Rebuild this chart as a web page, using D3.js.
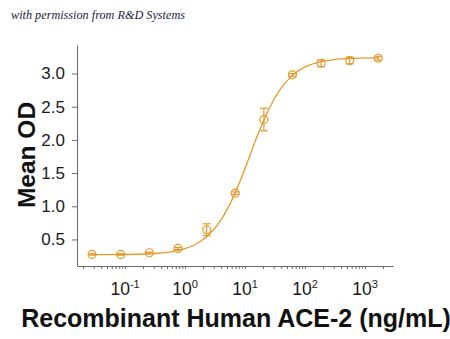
<!DOCTYPE html>
<html>
<head>
<meta charset="utf-8">
<script src="https://cdn.jsdelivr.net/npm/d3@7/dist/d3.min.js"></script>
<style>
  html, body { margin: 0; padding: 0; background: #fff; }
  svg { display: block; }
</style>
</head>
<body>
<svg id="chart" width="450" height="339"></svg>
<script>
// Concentrations of recombinant human ACE-2 (ng/mL), 3-fold dilution series
const concentrations = [0.0282, 0.0847, 0.254, 0.762, 2.29, 6.86, 20.6, 61.7, 185, 556, 1667];
// Mean OD at each concentration and its error (±)
const meanOD = [0.274, 0.274, 0.30, 0.365, 0.646, 1.197, 2.307, 2.98, 3.155, 3.196, 3.23];
const errOD  = [0.01, 0.01, 0.01, 0.015, 0.09, 0.02, 0.17, 0.02, 0.05, 0.05, 0.03];

// Fitted dose-response line: sampled concentrations and OD
const fitConc = [0.0282, 0.063, 0.158, 0.398, 1.0, 1.585, 2.512, 3.981, 6.31, 10, 15.85, 25.12, 39.81, 63.1, 100, 158.5, 316.2, 631, 1667];
const fitOD   = [0.271, 0.272, 0.277, 0.296, 0.362, 0.44, 0.575, 0.795, 1.13, 1.57, 2.05, 2.47, 2.78, 2.98, 3.10, 3.166, 3.212, 3.229, 3.236];

const xTickExps = [-1, 0, 1, 2, 3];
const yTicks = [0.5, 1.0, 1.5, 2.0, 2.5, 3.0];

const orange = "#e49a2c";
const axisColor = "#6a6a6a";
const svg = d3.select("#chart");

const x = d3.scaleLog().domain([0.0158, 2930]).range([77, 393]);
const y = d3.scaleLinear().domain([0.1, 3.43]).range([266, 45]);

// Watermark line
svg.append("text")
  .attr("x", 11).attr("y", 19)
  .attr("font-family", "'Liberation Serif', 'DejaVu Serif', serif")
  .attr("font-style", "italic")
  .attr("font-size", 12.5)
  .attr("fill", "#1c1c3c")
  .attr("textLength", 174)
  .attr("lengthAdjust", "spacingAndGlyphs")
  .text("with permission from R&D Systems");

// Y axis
const yAxis = svg.append("g")
  .attr("transform", "translate(77,0)")
  .call(d3.axisLeft(y).tickValues(yTicks).tickFormat(d3.format(".1f")).tickSize(5).tickSizeOuter(0).tickPadding(7));
yAxis.select(".domain").attr("stroke", axisColor);
yAxis.selectAll(".tick line").attr("stroke", axisColor);
yAxis.selectAll(".tick text")
  .attr("font-family", "'Liberation Sans', Arial, sans-serif")
  .attr("font-size", 17)
  .attr("fill", "#1a1a1a");

// X axis with decade and minor ticks
const minorTicks = [];
for (let e = -2; e <= 3; e++) {
  for (let m = 1; m <= 9; m++) {
    const v = m * Math.pow(10, e);
    if (v >= x.domain()[0] && v <= x.domain()[1]) minorTicks.push(v);
  }
}
const xAxis = svg.append("g")
  .attr("transform", "translate(0,266)")
  .call(d3.axisBottom(x).tickValues(minorTicks).tickFormat("").tickSize(3).tickSizeOuter(0));
xAxis.select(".domain").attr("stroke", axisColor);
xAxis.selectAll(".tick line").attr("stroke", axisColor);

// Decade labels 10^n
const xl = svg.append("g")
  .attr("font-family", "'Liberation Sans', Arial, sans-serif")
  .attr("fill", "#1a1a1a");
xTickExps.forEach(e => {
  const t = xl.append("text")
    .attr("x", x(Math.pow(10, e)))
    .attr("y", 295)
    .attr("text-anchor", "middle")
    .attr("font-size", 17.5);
  t.append("tspan").text("10");
  t.append("tspan").attr("font-size", 11).attr("dy", -7).text(e < 0 ? "-" + (-e) : String(e));
});

// Axis titles
svg.append("text")
  .attr("x", 236).attr("y", 327)
  .attr("text-anchor", "middle")
  .attr("font-family", "'Liberation Sans', Arial, sans-serif")
  .attr("font-weight", "bold")
  .attr("font-size", 25)
  .attr("fill", "#111")
  .text("Recombinant Human ACE-2 (ng/mL)");

svg.append("text")
  .attr("transform", "translate(35,155) rotate(-90)")
  .attr("text-anchor", "middle")
  .attr("font-family", "'Liberation Sans', Arial, sans-serif")
  .attr("font-weight", "bold")
  .attr("font-size", 24.5)
  .attr("fill", "#111")
  .text("Mean OD");

// Fitted curve
const fitData = fitConc.map((c, i) => ({ c, v: fitOD[i] }));
svg.append("path")
  .datum(fitData)
  .attr("fill", "none")
  .attr("stroke", orange)
  .attr("stroke-width", 1.3)
  .attr("d", d3.line().x(d => x(d.c)).y(d => y(d.v)).curve(d3.curveMonotoneX));

// Points with error bars
const pts = concentrations.map((c, i) => ({ c, v: meanOD[i], e: errOD[i] }));
const g = svg.append("g").attr("stroke", orange).attr("fill", "none").attr("stroke-width", 1.2);
const cap = 4;
pts.forEach(d => {
  const cx = x(d.c), y0 = y(d.v - d.e), y1 = y(d.v + d.e);
  g.append("line").attr("x1", cx).attr("x2", cx).attr("y1", y0).attr("y2", y1);
  g.append("line").attr("x1", cx - cap).attr("x2", cx + cap).attr("y1", y0).attr("y2", y0);
  g.append("line").attr("x1", cx - cap).attr("x2", cx + cap).attr("y1", y1).attr("y2", y1);
  g.append("circle").attr("cx", cx).attr("cy", y(d.v)).attr("r", 4);
});
</script>
</body>
</html>
